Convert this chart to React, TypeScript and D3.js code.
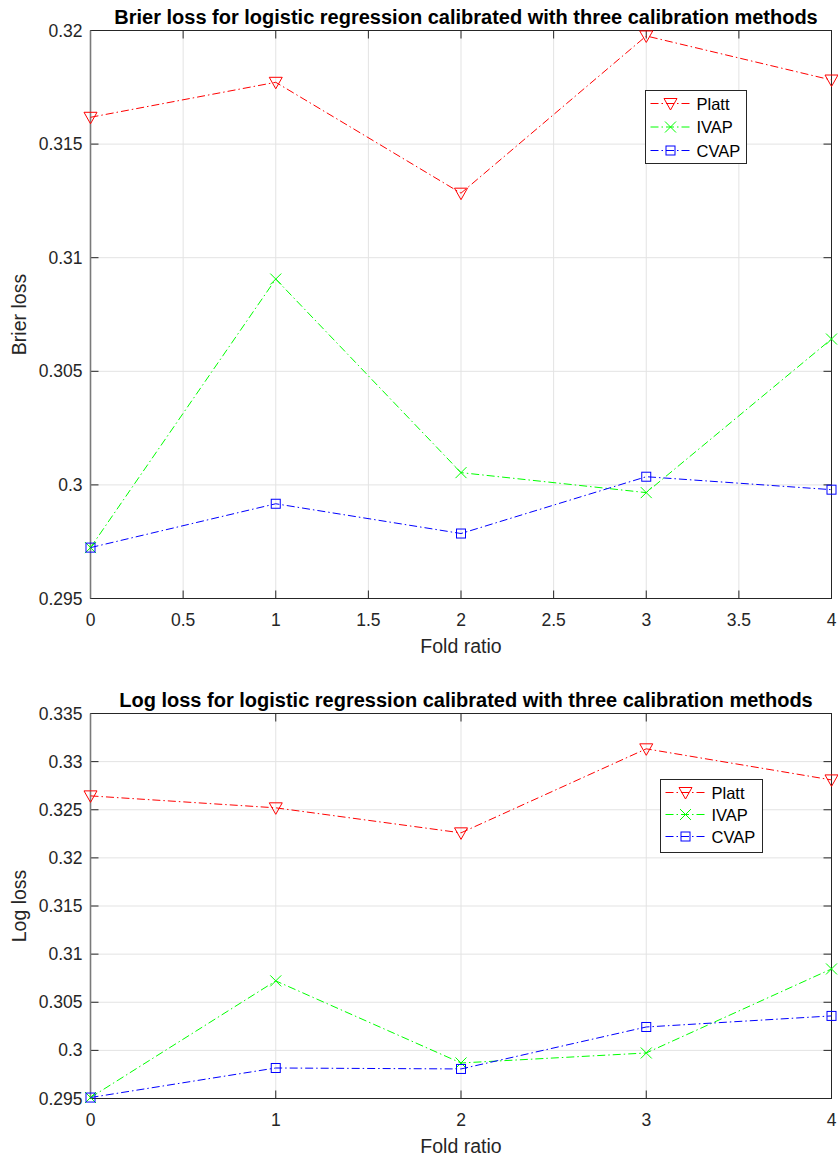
import React from "react";
import * as d3 from "d3";

// fold ratios on the x axis
const folds = [0, 1, 2, 3, 4];

// Brier loss per calibration method
const brierPlatt = [0.31618, 0.31772, 0.31284, 0.31976, 0.31782];
const brierIvap = [0.29724, 0.30906, 0.30054, 0.29966, 0.30642];
const brierCvap = [0.29724, 0.29917, 0.29786, 0.30036, 0.29979];

// Log loss per calibration method
const logPlatt = [0.32644, 0.3252, 0.3226, 0.33133, 0.3281];
const logIvap = [0.2951, 0.30722, 0.29869, 0.29973, 0.30846];
const logCvap = [0.2951, 0.29817, 0.29807, 0.30243, 0.30358];

// tick values
const brierXTicks = [0, 0.5, 1, 1.5, 2, 2.5, 3, 3.5, 4];
const brierYTicks = [0.295, 0.3, 0.305, 0.31, 0.315, 0.32];
const logXTicks = [0, 1, 2, 3, 4];
const logYTicks = [0.295, 0.3, 0.305, 0.31, 0.315, 0.32, 0.325, 0.33, 0.335];

const methodNames = ["Platt", "IVAP", "CVAP"];
const methodColors = ["#ff0000", "#00ff00", "#0000ff"];
const methodMarkers = ["triangle", "x", "square"];

const FONT = "'Liberation Sans', Arial, Helvetica, sans-serif";
const AXIS = "#262626";
const GRID = "#e3e3e3";
const DASH = "8,3,1.5,3";

const Marker = ({ kind, x, y, color }) => {
  if (kind === "triangle") {
    return (
      <path
        d={`M${x - 6.5},${y - 5}L${x + 6.5},${y - 5}L${x},${y + 6.5}Z`}
        fill="none"
        stroke={color}
        strokeWidth={1}
      />
    );
  }
  if (kind === "x") {
    return (
      <path
        d={`M${x - 5.5},${y - 5.5}L${x + 5.5},${y + 5.5}M${x - 5.5},${y + 5.5}L${x + 5.5},${y - 5.5}`}
        fill="none"
        stroke={color}
        strokeWidth={1}
      />
    );
  }
  return (
    <rect x={x - 4.5} y={y - 4.5} width={9} height={9} fill="none" stroke={color} strokeWidth={1} />
  );
};

const Panel = ({ top, bottom, title, ylabel, series, xTicks, yTicks, legend }) => {
  const left = 90.5;
  const right = 831.5;
  const x = d3.scaleLinear().domain([0, 4]).range([left, right]);
  const y = d3
    .scaleLinear()
    .domain([yTicks[0], yTicks[yTicks.length - 1]])
    .range([bottom, top]);
  const fmt = d3.format("~g");
  const line = d3
    .line<number>()
    .x((d, i) => x(folds[i]))
    .y((d) => y(d));

  return (
    <g>
      {/* grid */}
      {xTicks.map((t) => (
        <line key={"gx" + t} x1={x(t)} x2={x(t)} y1={top} y2={bottom} stroke={GRID} />
      ))}
      {yTicks.map((t) => (
        <line key={"gy" + t} x1={left} x2={right} y1={y(t)} y2={y(t)} stroke={GRID} />
      ))}
      {/* ticks, inward on all four sides */}
      {xTicks.map((t) => (
        <g key={"tx" + t}>
          <line x1={x(t)} x2={x(t)} y1={bottom} y2={bottom - 8} stroke={AXIS} />
          <line x1={x(t)} x2={x(t)} y1={top} y2={top + 8} stroke={AXIS} />
          <text
            x={x(t)}
            y={bottom + 27}
            textAnchor="middle"
            fontSize={17.5}
            fill={AXIS}
            fontFamily={FONT}
          >
            {fmt(t)}
          </text>
        </g>
      ))}
      {yTicks.map((t) => (
        <g key={"ty" + t}>
          <line x1={left} x2={left + 8} y1={y(t)} y2={y(t)} stroke={AXIS} />
          <line x1={right} x2={right - 8} y1={y(t)} y2={y(t)} stroke={AXIS} />
          <text
            x={left - 8}
            y={y(t) + 6}
            textAnchor="end"
            fontSize={17.5}
            fill={AXIS}
            fontFamily={FONT}
          >
            {fmt(t)}
          </text>
        </g>
      ))}
      {/* box */}
      <rect x={left} y={top} width={right - left} height={bottom - top} fill="none" stroke={AXIS} />
      <line x1={left} x2={left} y1={top} y2={bottom} stroke="#7a7a7a" strokeWidth={1.6} />
      {/* series */}
      {series.map((s, k) => (
        <g key={"s" + k}>
          <path d={line(s)} fill="none" stroke={methodColors[k]} strokeWidth={1} strokeDasharray={DASH} />
          {s.map((v, i) => (
            <Marker key={i} kind={methodMarkers[k]} x={x(folds[i])} y={y(v)} color={methodColors[k]} />
          ))}
        </g>
      ))}
      {/* labels */}
      <text
        x={(left + right) / 2 + 5}
        y={top - 7}
        textAnchor="middle"
        fontSize={20}
        fontWeight="bold"
        fill="#000"
        fontFamily={FONT}
      >
        {title}
      </text>
      <text
        x={(left + right) / 2}
        y={bottom + 54}
        textAnchor="middle"
        fontSize={19.5}
        fill={AXIS}
        fontFamily={FONT}
      >
        Fold ratio
      </text>
      <text
        transform={`translate(26,${(top + bottom) / 2}) rotate(-90)`}
        textAnchor="middle"
        fontSize={19.5}
        fill={AXIS}
        fontFamily={FONT}
      >
        {ylabel}
      </text>
      {/* legend */}
      <g transform={`translate(${legend.x},${legend.y})`}>
        <rect x={0} y={0} width={legend.w} height={legend.h} fill="#fff" stroke={AXIS} />
        {methodNames.map((name, k) => {
          const ry = 13 + k * legend.step;
          return (
            <g key={name}>
              <line x1={5} x2={47} y1={ry} y2={ry} stroke={methodColors[k]} strokeDasharray={DASH} />
              <Marker kind={methodMarkers[k]} x={25} y={ry} color={methodColors[k]} />
              <text x={51} y={ry + 6} fontSize={16.5} fill="#000" fontFamily={FONT}>
                {name}
              </text>
            </g>
          );
        })}
      </g>
    </g>
  );
};

export default function App() {
  return (
    <svg
      width={838}
      height={1162}
      style={{ position: "absolute", left: 0, top: 0, background: "#fff" }}
    >
      <rect width={838} height={1162} fill="#fff" />
      <Panel
        top={30.5}
        bottom={598.5}
        title="Brier loss for logistic regression calibrated with three calibration methods"
        ylabel="Brier loss"
        series={[brierPlatt, brierIvap, brierCvap]}
        xTicks={brierXTicks}
        yTicks={brierYTicks}
        legend={{ x: 645.5, y: 90.5, w: 101, h: 73, step: 23.5 }}
      />
      <Panel
        top={713.5}
        bottom={1098.5}
        title="Log loss for logistic regression calibrated with three calibration methods"
        ylabel="Log loss"
        series={[logPlatt, logIvap, logCvap]}
        xTicks={logXTicks}
        yTicks={logYTicks}
        legend={{ x: 660.5, y: 779.5, w: 102, h: 73, step: 22 }}
      />
    </svg>
  );
}
